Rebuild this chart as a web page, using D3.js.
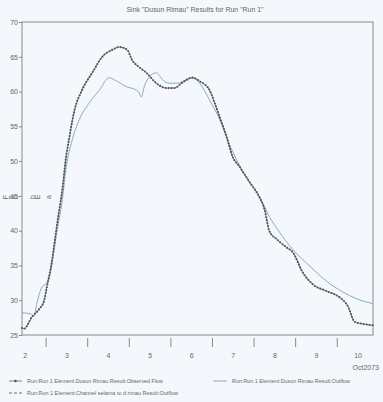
<!DOCTYPE html>
<html>
<head>
<meta charset="utf-8">
<script src="https://cdn.jsdelivr.net/npm/d3@7"></script>
<style>
  body { margin: 0; background: #f4f8fc; }
  svg { display: block; font-family: "Liberation Sans", Arial, sans-serif; }
</style>
</head>
<body>
<script>
// observed flow (day of October 2073, flow)
var obsDays = [2.42, 2.47, 2.66, 2.83, 2.95, 3.02, 3.12, 3.19, 3.27, 3.39, 3.48, 3.55, 3.67, 3.87, 4.11, 4.35, 4.59, 4.76, 4.95, 5.07, 5.24, 5.41, 5.65, 5.89, 6.08, 6.28, 6.52, 6.69, 6.93, 7.05, 7.17, 7.34, 7.48, 7.65, 7.89, 8.13, 8.25, 8.37, 8.54, 8.78, 8.93, 9.17, 9.41, 9.75, 10.06, 10.25, 10.42, 10.61, 10.86];
var obsFlow = [26.0, 25.9, 27.6, 28.7, 29.9, 32.0, 34.9, 37.7, 41.2, 45.9, 50.6, 53.1, 57.0, 60.3, 62.7, 65.0, 66.0, 66.4, 66.0, 64.5, 63.5, 62.7, 61.2, 60.5, 60.5, 61.3, 62.0, 61.5, 60.2, 58.4, 56.4, 53.5, 50.7, 49.2, 47.0, 44.8, 43.1, 39.9, 38.8, 37.6, 36.9, 34.0, 32.3, 31.3, 30.4, 29.2, 26.9, 26.6, 26.4];

// computed outflow
var outDays = [2.42, 2.64, 2.71, 2.78, 2.90, 3.00, 3.07, 3.12, 3.24, 3.39, 3.48, 3.63, 3.80, 4.04, 4.28, 4.52, 4.64, 4.93, 5.17, 5.24, 5.29, 5.36, 5.48, 5.65, 5.80, 5.96, 6.16, 6.33, 6.52, 6.69, 6.93, 7.17, 7.36, 7.58, 7.84, 8.13, 8.37, 8.61, 8.93, 9.34, 9.75, 10.13, 10.47, 10.86];
var outFlow = [28.2, 28.0, 27.7, 29.6, 31.9, 32.4, 33.2, 34.5, 39.2, 44.5, 49.0, 53.1, 56.0, 58.4, 60.2, 62.0, 61.7, 60.7, 60.2, 59.8, 59.2, 60.7, 62.1, 62.7, 61.7, 61.2, 61.2, 61.6, 62.0, 61.2, 58.8, 56.0, 53.1, 50.2, 47.4, 44.9, 42.0, 39.8, 37.3, 34.9, 32.7, 31.2, 30.2, 29.5];

var yTicks = [25, 30, 35, 40, 45, 50, 55, 60, 65, 70];
var dayTicks = [3, 4, 5, 6, 7, 8, 9, 10];
var dayLabels = [2, 3, 4, 5, 6, 7, 8, 9, 10];

var title = 'Sink "Dusun Rimau" Results for Run "Run 1"';
var legendNames = [
  "Run:Run 1 Element:Dusun Rimau Result:Observed Flow",
  "Run:Run 1 Element:Dusun Rimau Result:Outflow",
  "Run:Run 1 Element:Channel  selama to d rimau Result:Outflow"
];

var width = 383, height = 402;
var plotL = 22, plotR = 373, plotT = 22, plotB = 335;
var axisColor = "#888", textColor = "#666";

var svg = d3.select("body").append("svg")
  .attr("width", width)
  .attr("height", height);

svg.append("rect").attr("width", width).attr("height", height).attr("fill", "#f4f8fc");

var x = d3.scaleLinear().domain([2.42, 10.86]).range([plotL, plotR]);
var y = d3.scaleLinear().domain([25, 70]).range([plotB, plotT]);

// title
svg.append("text")
  .attr("x", 195).attr("y", 12)
  .attr("text-anchor", "middle")
  .attr("font-size", 7.5)
  .attr("fill", textColor)
  .attr("textLength", 137)
  .attr("lengthAdjust", "spacingAndGlyphs")
  .text(title);

// frame
svg.append("rect")
  .attr("x", plotL).attr("y", plotT)
  .attr("width", plotR - plotL).attr("height", plotB - plotT)
  .attr("fill", "none")
  .attr("stroke", axisColor)
  .attr("stroke-width", 1);

// y axis
var yAxis = d3.axisLeft(y).tickValues(yTicks).tickSize(3).tickPadding(1);
var gy = svg.append("g").attr("transform", "translate(" + plotL + ",0)").call(yAxis);
gy.select(".domain").remove();
gy.selectAll("line").attr("stroke", axisColor);
gy.selectAll("text").attr("font-size", 7).attr("fill", textColor)
  .attr("font-family", "Liberation Sans Narrow, Liberation Sans, Arial");

// garbled rotated y-axis title
var glyphs = [["F", 6], ["b", 11], ["b", 16], ["b", 33], ["E", 38], ["a", 49]];
svg.selectAll(".ylab").data(glyphs).enter().append("text")
  .attr("class", "ylab")
  .attr("transform", function(d) { return "translate(" + d[1] + ",197) rotate(-90)"; })
  .attr("text-anchor", "middle")
  .attr("dy", "0.35em")
  .attr("font-size", 7)
  .attr("fill", textColor)
  .text(function(d) { return d[0]; });

// x axis: day ticks below the frame, labels at noon of each day
var gx = svg.append("g").attr("transform", "translate(0," + plotB + ")");
gx.selectAll("line").data(dayTicks).enter().append("line")
  .attr("x1", function(d) { return x(d); })
  .attr("x2", function(d) { return x(d); })
  .attr("y1", 3).attr("y2", 12)
  .attr("stroke", axisColor);
gx.selectAll("text").data(dayLabels).enter().append("text")
  .attr("x", function(d) { return x(d + 0.5); })
  .attr("y", 23)
  .attr("text-anchor", "middle")
  .attr("font-size", 7)
  .attr("fill", textColor)
  .text(function(d) { return d; });
svg.append("text")
  .attr("x", 379).attr("y", 370)
  .attr("text-anchor", "end")
  .attr("font-size", 7)
  .attr("fill", textColor)
  .text("Oct2073");

// lines
var line = d3.line()
  .x(function(d) { return x(d[0]); })
  .y(function(d) { return y(d[1]); })
  .curve(d3.curveMonotoneX);

var outData = d3.zip(outDays, outFlow);
var obsData = d3.zip(obsDays, obsFlow);

svg.append("path")
  .datum(outData)
  .attr("d", line)
  .attr("fill", "none")
  .attr("stroke", "#86abc9")
  .attr("stroke-width", 1);

var obsPath = svg.append("path")
  .datum(obsData)
  .attr("d", line)
  .attr("fill", "none")
  .attr("stroke", "#777")
  .attr("stroke-width", 0.9);

// bead markers along the observed line
var node = obsPath.node(), total = node.getTotalLength(), beads = [];
for (var s = 0; s <= total; s += 3) {
  var p = node.getPointAtLength(s);
  beads.push([p.x, p.y]);
}
svg.append("g").selectAll("circle").data(beads).enter().append("circle")
  .attr("cx", function(d) { return d[0]; })
  .attr("cy", function(d) { return d[1]; })
  .attr("r", 1.05)
  .attr("fill", "#555");

// legend
var leg = svg.append("g");
function legendText(tx, ty, len, str) {
  leg.append("text")
    .attr("x", tx).attr("y", ty + 2.2)
    .attr("font-size", 6)
    .attr("fill", textColor)
    .attr("textLength", len)
    .attr("lengthAdjust", "spacingAndGlyphs")
    .text(str);
}
leg.append("line").attr("x1", 9).attr("x2", 22).attr("y1", 381).attr("y2", 381)
  .attr("stroke", "#666").attr("stroke-width", 0.8);
leg.append("circle").attr("cx", 15.5).attr("cy", 381).attr("r", 1.2).attr("fill", "#444");
legendText(27, 381, 136, legendNames[0]);

leg.append("line").attr("x1", 213).attr("x2", 227).attr("y1", 381).attr("y2", 381)
  .attr("stroke", "#86abc9").attr("stroke-width", 1);
legendText(232, 381, 118, legendNames[1]);

leg.append("line").attr("x1", 9).attr("x2", 22).attr("y1", 393).attr("y2", 393)
  .attr("stroke", "#666").attr("stroke-width", 1)
  .attr("stroke-dasharray", "3,2");
legendText(27, 393, 151, legendNames[2]);
</script>
</body>
</html>
